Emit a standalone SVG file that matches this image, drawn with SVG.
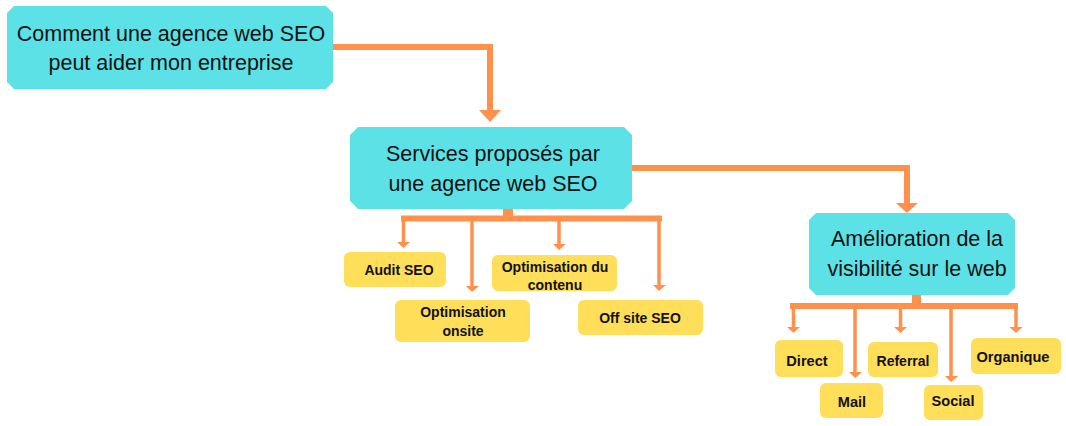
<svg xmlns="http://www.w3.org/2000/svg" width="1066" height="426" viewBox="0 0 1066 426">
<style>
.main{fill:#5ce1e6}
.leaf{fill:#ffde59}
.t1{font-family:"Liberation Sans",Arial,sans-serif;font-size:21.5px;fill:#111;text-anchor:middle}
.t2{font-family:"Liberation Sans",Arial,sans-serif;font-size:14px;font-weight:bold;fill:#111;text-anchor:middle}
.thick{stroke:#ff914d;stroke-width:6;fill:none}
.thin{stroke:#ff914d;stroke-width:3.5;fill:none}
.ah{fill:#ff914d}
</style>
<rect width="1066" height="426" fill="#fff"/>
<g id="connectors">
<polyline class="thick" points="333,47 490,47 490,112"/>
<polygon class="ah" points="479,110 501,110 490,122"/>
<polyline class="thick" points="631,168 907,168 907,204"/>
<polygon class="ah" points="896,203 918,203 907,213"/>
<rect class="ah" x="503" y="207" width="10" height="10"/>
<line class="thick" x1="401" y1="218.5" x2="662" y2="218.5"/>
<line class="thin" x1="403.5" y1="218" x2="403.5" y2="243"/>
<polygon class="ah" points="397,242 410,242 403.5,248"/>
<line class="thin" x1="472" y1="218" x2="472" y2="287"/>
<polygon class="ah" points="466,286 479,286 472,292"/>
<line class="thin" x1="559" y1="218" x2="559" y2="245"/>
<polygon class="ah" points="553,244 566,244 559,250"/>
<line class="thin" x1="659" y1="218" x2="659" y2="286"/>
<polygon class="ah" points="653,285 666,285 659,291"/>
<rect class="ah" x="912" y="293" width="9" height="11"/>
<line class="thick" x1="790" y1="306" x2="1018" y2="306"/>
<line class="thin" x1="793.5" y1="306" x2="793.5" y2="328"/>
<polygon class="ah" points="787,327 800,327 793.5,333"/>
<line class="thin" x1="855" y1="306" x2="855" y2="373"/>
<polygon class="ah" points="849,372 862,372 855,378"/>
<line class="thin" x1="900.5" y1="306" x2="900.5" y2="328"/>
<polygon class="ah" points="894,327 907,327 900.5,333"/>
<line class="thin" x1="951" y1="306" x2="951" y2="377"/>
<polygon class="ah" points="945,376 958,376 951,382"/>
<line class="thin" x1="1016" y1="306" x2="1016" y2="328"/>
<polygon class="ah" points="1009.5,327 1022.5,327 1016,333"/>
</g>
<g id="node-top">
<path class="main" d="M14,6 H326 L333,13 V82 L326,89 H14 L7,82 V13 Z"/>
<text class="t1" x="171" y="41">Comment une agence web SEO</text>
<text class="t1" x="171" y="70">peut aider mon entreprise</text>
</g>
<g id="node-services">
<path class="main" d="M358,127 H624 L632,135 V201 L624,209 H358 L350,201 V135 Z"/>
<text class="t1" x="493" y="161">Services proposés par</text>
<text class="t1" x="493" y="191">une agence web SEO</text>
</g>
<g id="node-amelioration">
<path class="main" d="M816,213 H1008 L1015,220 V288 L1008,295 H816 L809,288 V220 Z"/>
<text class="t1" x="917" y="246">Amélioration de la</text>
<text class="t1" x="917" y="276">visibilité sur le web</text>
</g>
<g id="node-audit">
<rect class="leaf" x="344" y="252" width="102" height="35" rx="6"/>
<text class="t2" x="399" y="275">Audit SEO</text>
</g>
<g id="node-contenu">
<rect class="leaf" x="492" y="255" width="125" height="36" rx="6"/>
<text class="t2" x="555" y="272">Optimisation du</text>
<text class="t2" x="555" y="290">contenu</text>
</g>
<g id="node-onsite">
<rect class="leaf" x="395" y="300" width="135" height="42" rx="6"/>
<text class="t2" x="463" y="317">Optimisation</text>
<text class="t2" x="463" y="336">onsite</text>
</g>
<g id="node-offsite">
<rect class="leaf" x="578" y="300" width="125" height="35" rx="6"/>
<text class="t2" x="640" y="323">Off site SEO</text>
</g>
<g id="node-direct">
<rect class="leaf" x="775" y="340" width="68" height="37" rx="6"/>
<text class="t2" x="807" y="366" style="font-size:14.6px">Direct</text>
</g>
<g id="node-mail">
<rect class="leaf" x="820" y="383" width="63" height="35" rx="6"/>
<text class="t2" x="852" y="407" style="font-size:14.6px">Mail</text>
</g>
<g id="node-referral">
<rect class="leaf" x="868" y="342" width="70" height="35" rx="6"/>
<text class="t2" x="903" y="366">Referral</text>
</g>
<g id="node-social">
<rect class="leaf" x="924" y="385" width="59" height="35" rx="6"/>
<text class="t2" x="953" y="406" style="font-size:14.6px">Social</text>
</g>
<g id="node-organique">
<rect class="leaf" x="971" y="338" width="90" height="36" rx="6"/>
<text class="t2" x="1013" y="362" style="font-size:14.6px">Organique</text>
</g>
</svg>
